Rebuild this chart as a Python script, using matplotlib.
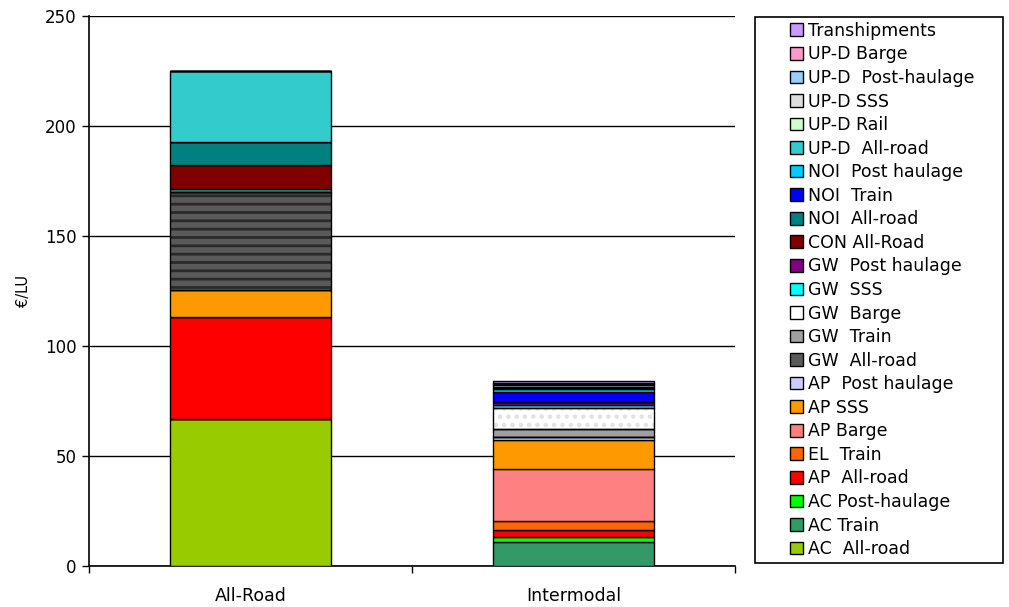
import matplotlib.pyplot as plt  # To plot the stacked bars
from matplotlib.patches import Rectangle, Patch  # Legend frame and legend keys
import numpy as np  # To build the stacked bottoms

plt.rcParams['font.family'] = ['DejaVu Sans']
plt.rcParams['hatch.linewidth'] = 2.0

# Categories on the x axis
categories = ['All-Road', 'Intermodal']

# Series in stacking order (bottom to top)
series = ['AC  All-road', 'AC Train', 'AC Post-haulage', 'AP  All-road', 'EL  Train',
          'AP Barge', 'AP SSS', 'AP  Post haulage', 'GW  All-road', 'GW  Train',
          'GW  Barge', 'GW  SSS', 'GW  Post haulage', 'CON All-Road', 'NOI  All-road',
          'NOI  Train', 'NOI  Post haulage', 'UP-D  All-road', 'UP-D Rail', 'UP-D SSS',
          'UP-D  Post-haulage', 'UP-D Barge', 'Transhipments']

# Values (€/LU), one entry per series
all_road = [66.7, 0, 0, 46.6, 0,
            0, 12.3, 0, 44.6, 0,
            0, 1.3, 0, 10.8, 10.3,
            0, 0, 32.4, 0, 0,
            0, 0, 0]
intermodal = [0, 10.8, 2.2, 3.4, 4.2,
              23.5, 13.2, 1.5, 0, 3.5,
              9.4, 1.3, 1.4, 0, 0,
              4.8, 1.2, 0.6, 0.6, 0.6,
              0.6, 0.6, 0.7]

colors = ['#99CC00', '#339966', '#00FF00', '#FF0000', '#FF6600',
          '#FF8080', '#FF9900', '#CCCCFF', '#5A5A5A', '#A0A0A0',
          '#FFFFFF', '#00FFFF', '#800080', '#800000', '#008080',
          '#0000FF', '#00CCFF', '#33CCCC', '#CCFFCC', '#DDDDDD',
          '#99CCFF', '#FF99CC', '#CC99FF']

# Patterns for the GW series (hatch, hatch colour)
patterns = {'GW  All-road': ('--', '#2A2A2A'),
            'GW  Train': ('--', '#7A7A7A'),
            'GW  Barge': ('..', '#E2E2E2')}

fig = plt.figure(figsize=(10.09, 6.07), dpi=100)
ax = fig.add_axes([0.0882, 0.0675, 0.6403, 0.9061])

x = np.arange(len(categories))
bottom = np.zeros(len(categories))
handles = []
for i, name in enumerate(series):
    values = np.array([all_road[i], intermodal[i]])
    if name in patterns:
        hatch, hatch_color = patterns[name]
        ax.bar(x, values, 0.5, bottom=bottom, color=colors[i], hatch=hatch,
               edgecolor=hatch_color, linewidth=0, zorder=3)
        ax.bar(x, values, 0.5, bottom=bottom, facecolor='none', edgecolor='black',
               linewidth=1.0, zorder=4)
    else:
        ax.bar(x, values, 0.5, bottom=bottom, color=colors[i], edgecolor='black',
               linewidth=1.0, zorder=3)
    handles.append(Patch(facecolor=colors[i], edgecolor='black', linewidth=1.0))
    bottom += values

ax.set_xlim(-0.5, 1.5)
ax.set_ylim(0, 250)
ax.set_yticks(range(0, 251, 50))
ax.set_xticks(x)
ax.set_xticklabels(categories, fontsize=12.5)
ax.set_xticks([-0.5, 0.5, 1.5], minor=True)
ax.tick_params(axis='x', which='major', length=0, pad=15)
ax.tick_params(axis='x', which='minor', length=5, width=1, direction='out')
ax.tick_params(axis='y', length=5, width=1, direction='out', labelsize=12, pad=4)
ax.yaxis.grid(True, color='black', linewidth=1.0, zorder=0)
ax.set_axisbelow(True)
ax.spines['top'].set_visible(False)
ax.spines['right'].set_visible(False)
ax.spines['left'].set_linewidth(1.2)
ax.spines['bottom'].set_linewidth(1.2)
ax.set_ylabel('€/LU', fontsize=10.5, labelpad=10)

# Legend frame drawn separately to get the wide left margin of the original
fig.patches.append(Rectangle((0.7483, 0.0725), 0.2458, 0.8995, transform=fig.transFigure,
                             facecolor='white', edgecolor='black', linewidth=1.2))
legend = fig.legend(handles[::-1], series[::-1], loc='upper left',
                    bbox_to_anchor=(0.7825, 0.964), fontsize=12.5, frameon=False,
                    handlelength=0.75, handleheight=0.75, handletextpad=0.3,
                    labelspacing=0.32, borderpad=0, borderaxespad=0)

fig.savefig('out.png', dpi=100)
